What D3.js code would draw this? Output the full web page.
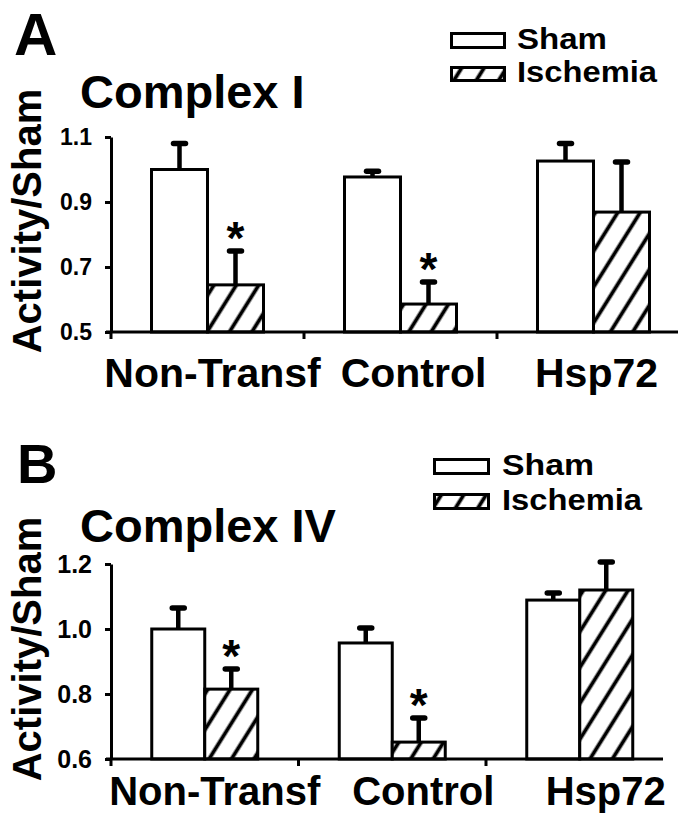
<!DOCTYPE html>
<html>
<head>
<meta charset="utf-8">
<script src="https://cdn.jsdelivr.net/npm/d3@7"></script>
<style>
  html, body { margin: 0; padding: 0; background: #fff; }
  svg { display: block; }
  text { font-family: "Liberation Sans", Arial, Helvetica, sans-serif; font-weight: bold; fill: #000; }
</style>
</head>
<body>
<script>
// ---------- data ----------
const categories = ["Non-Transf", "Control", "Hsp72"];
const seriesNames = ["Sham", "Ischemia"];

const complexIShamMean = [1.00, 0.977, 1.026];
const complexIShamErr  = [0.08, 0.018, 0.054];
const complexIIschMean = [0.645, 0.586, 0.869];
const complexIIschErr  = [0.104, 0.068, 0.154];
const complexIIschSig  = [true, true, false];
const complexITicks    = [0.5, 0.7, 0.9, 1.1];

const complexIVShamMean = [1.00, 0.957, 1.089];
const complexIVShamErr  = [0.065, 0.046, 0.022];
const complexIVIschMean = [0.815, 0.652, 1.12];
const complexIVIschErr  = [0.062, 0.074, 0.086];
const complexIVIschSig  = [true, true, false];
const complexIVTicks    = [0.6, 0.8, 1.0, 1.2];

const panelLetters = ["A", "B"];
const panelTitles = ["Complex I", "Complex IV"];
const yAxisLabel = "Activity/Sham";

// ---------- layout (styling only) ----------
const W = 687, H = 826;
const svg = d3.select("body").append("svg").attr("width", W).attr("height", H);
svg.append("rect").attr("width", W).attr("height", H).attr("fill", "#fff");

const defs = svg.append("defs");
const pat = defs.append("pattern")
  .attr("id", "hatch").attr("patternUnits", "userSpaceOnUse")
  .attr("width", 19).attr("height", 19)
  .attr("patternTransform", "rotate(32)");
pat.append("rect").attr("width", 19).attr("height", 19).attr("fill", "#fff");
pat.append("line").attr("x1", 9.5).attr("x2", 9.5).attr("y1", 0).attr("y2", 19)
  .attr("stroke", "#000").attr("stroke-width", 3.8);

const panels = [
  {
    letter: panelLetters[0], title: panelTitles[0],
    sham: complexIShamMean, shamErr: complexIShamErr,
    isch: complexIIschMean, ischErr: complexIIschErr, sig: complexIIschSig,
    ticks: complexITicks,
    letterPos: [14, 55, 60], titlePos: [80, 108, 47],
    legend: { rx: 450, rw: 56, ry: [32, 66], rh: [17, 16], tx: 517, ty: [49, 82], fs: 29, tl: [90, 140] },
    yRange: [332, 137], xRange: [111, 690], axisEnd: 678, barW: 56,
    tickFont: 23, yLabelY: 221, xLabelY: 387, xLabelDx: [5, 13, 3], xLabelFont: 41
  },
  {
    letter: panelLetters[1], title: panelTitles[1],
    sham: complexIVShamMean, shamErr: complexIVShamErr,
    isch: complexIVIschMean, ischErr: complexIVIschErr, sig: complexIVIschSig,
    ticks: complexIVTicks,
    letterPos: [17, 483, 56], titlePos: [80, 542, 47],
    legend: { rx: 433, rw: 57, ry: [458, 493], rh: [17, 17], tx: 502, ty: [475, 510], fs: 29, tl: [92, 140] },
    yRange: [759, 564], xRange: [111, 673.5], axisEnd: 663, barW: 53,
    tickFont: 25, yLabelY: 649, xLabelY: 805, xLabelDx: [10, 31, 26], xLabelFont: 40
  }
];

panels.forEach(p => {
  const g = svg.append("g");

  // panel letter and title
  g.append("text").attr("x", p.letterPos[0]).attr("y", p.letterPos[1])
    .attr("font-size", p.letterPos[2]).text(p.letter);
  g.append("text").attr("x", p.titlePos[0]).attr("y", p.titlePos[1])
    .attr("font-size", p.titlePos[2]).text(p.title);

  // legend
  seriesNames.forEach((s, i) => {
    g.append("rect").attr("x", p.legend.rx + 1.5).attr("y", p.legend.ry[i] + 1.5)
      .attr("width", p.legend.rw - 3).attr("height", p.legend.rh[i] - 3)
      .attr("fill", i === 0 ? "#fff" : "url(#hatch)")
      .attr("stroke", "#000").attr("stroke-width", 3);
    g.append("text").attr("x", p.legend.tx).attr("y", p.legend.ty[i])
      .attr("font-size", p.legend.fs)
      .attr("textLength", p.legend.tl[i]).attr("lengthAdjust", "spacingAndGlyphs")
      .text(s);
  });

  // scales
  const y = d3.scaleLinear().domain([p.ticks[0], p.ticks[p.ticks.length - 1]]).range(p.yRange);
  const x = d3.scaleBand().domain(categories).range(p.xRange).paddingInner(0).paddingOuter(0);
  const bw = x.bandwidth();
  const po = (bw / p.barW - 2) / 2;
  const xs = d3.scaleBand().domain(seriesNames).range([0, bw]).paddingInner(0).paddingOuter(po);

  const rows = [];
  categories.forEach((c, i) => {
    rows.push({ cat: c, series: "Sham", mean: p.sham[i], err: p.shamErr[i], sig: false });
    rows.push({ cat: c, series: "Ischemia", mean: p.isch[i], err: p.ischErr[i], sig: p.sig[i] });
  });

  const y0 = y(p.ticks[0]);

  // bars
  g.selectAll("rect.bar").data(rows).enter().append("rect")
    .attr("class", "bar")
    .attr("x", d => x(d.cat) + xs(d.series))
    .attr("width", xs.bandwidth())
    .attr("y", d => y(d.mean))
    .attr("height", d => y0 - y(d.mean))
    .attr("fill", d => d.series === "Sham" ? "#fff" : "url(#hatch)")
    .attr("stroke", "#000").attr("stroke-width", 3);

  // error bars (upper only)
  const cx = d => x(d.cat) + xs(d.series) + xs.bandwidth() / 2;
  g.selectAll("line.stem").data(rows).enter().append("line")
    .attr("x1", cx).attr("x2", cx)
    .attr("y1", d => y(d.mean)).attr("y2", d => y(d.mean + d.err))
    .attr("stroke", "#000").attr("stroke-width", 4.5);
  g.selectAll("line.cap").data(rows).enter().append("line")
    .attr("x1", d => cx(d) - 6).attr("x2", d => cx(d) + 6)
    .attr("y1", d => y(d.mean + d.err)).attr("y2", d => y(d.mean + d.err))
    .attr("stroke", "#000").attr("stroke-width", 5.5).attr("stroke-linecap", "round");

  // significance stars
  g.selectAll("text.star").data(rows.filter(d => d.sig)).enter().append("text")
    .attr("x", cx).attr("y", d => y(d.mean + d.err) + 3)
    .attr("text-anchor", "middle").attr("font-size", 46).text("*");

  // y axis
  const yAxis = d3.axisLeft(y).tickValues(p.ticks).tickFormat(d3.format(".1f"))
    .tickSize(6).tickSizeOuter(0).tickPadding(13);
  const ga = g.append("g").attr("transform", `translate(${p.xRange[0]},0)`).call(yAxis);
  ga.select(".domain").attr("stroke", "#000").attr("stroke-width", 3);
  ga.selectAll(".tick line").attr("stroke", "#000").attr("stroke-width", 3);
  ga.selectAll(".tick text").attr("font-size", p.tickFont)
    .attr("font-family", "'Liberation Sans', Arial, sans-serif").attr("font-weight", "bold")
    .attr("fill", "#000");

  // x axis line and ticks at group boundaries
  g.append("line").attr("x1", p.xRange[0] - 5).attr("x2", p.axisEnd)
    .attr("y1", y0).attr("y2", y0).attr("stroke", "#000").attr("stroke-width", 3);
  g.selectAll("line.xtick").data(categories).enter().append("line")
    .attr("x1", d => x(d)).attr("x2", d => x(d))
    .attr("y1", y0).attr("y2", y0 + 7)
    .attr("stroke", "#000").attr("stroke-width", 3);

  // x labels
  g.selectAll("text.xl").data(categories).enter().append("text")
    .attr("x", (d, i) => x(d) + bw / 2 + p.xLabelDx[i]).attr("y", p.xLabelY)
    .attr("text-anchor", "middle").attr("font-size", p.xLabelFont).text(d => d);

  // y label
  g.append("text").attr("transform", `translate(41,${p.yLabelY}) rotate(-90)`)
    .attr("text-anchor", "middle").attr("font-size", 40).text(yAxisLabel);
});
</script>
</body>
</html>
